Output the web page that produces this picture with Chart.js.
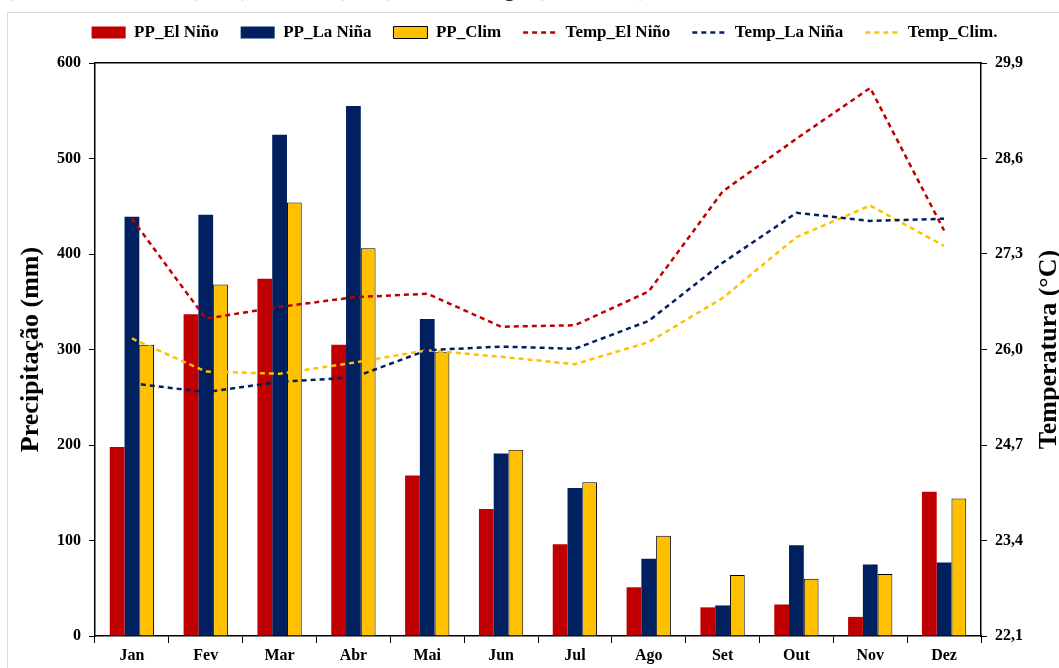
<!DOCTYPE html>
<html>
<head>
<meta charset="utf-8">
<script src="https://cdn.jsdelivr.net/npm/chart.js@4.4.1/dist/chart.umd.min.js"></script>
<style>
  html, body { margin: 0; padding: 0; background: #fff; overflow: hidden; }
  #wrap { position: relative; width: 1059px; height: 668px; overflow: hidden; }
  #caption { position: absolute; left: -2px; top: -24px; font: 22px "Liberation Serif", serif; color: #000; white-space: nowrap; }
  #frame { position: absolute; left: 7px; top: 12px; width: 1100px; height: 700px; border: 1px solid #d9d9d9; }
  #chart { position: absolute; left: 0; top: 0; }
</style>
</head>
<body>
<div id="wrap">
  <div id="caption">S) e Anos de El Niño (2015), La Niña (2016) e Climatologia (1981-2010).</div>
  <div id="frame"></div>
  <canvas id="chart" width="1059" height="668"></canvas>
</div>
<script>
// months and series
const months = ['Jan', 'Fev', 'Mar', 'Abr', 'Mai', 'Jun', 'Jul', 'Ago', 'Set', 'Out', 'Nov', 'Dez'];

const ppElNino = [198, 337, 374, 305, 168, 133, 96, 51, 30, 33, 20, 151];
const ppLaNina = [439, 441, 525, 555, 332, 191, 155, 81, 32, 95, 75, 77];
const ppClim   = [305, 368, 454, 406, 297, 195, 161, 105, 64, 60, 65, 144];

const tempElNino = [27.78, 26.42, 26.58, 26.71, 26.76, 26.31, 26.33, 26.79, 28.15, 28.87, 29.56, 27.62];
const tempLaNina = [25.54, 25.42, 25.56, 25.62, 25.99, 26.04, 26.01, 26.39, 27.18, 27.86, 27.75, 27.78];
const tempClim   = [26.15, 25.70, 25.67, 25.82, 25.99, 25.90, 25.80, 26.10, 26.70, 27.53, 27.96, 27.41];

const precipTicks = [0, 100, 200, 300, 400, 500, 600];
const tempTicks = [22.1, 23.4, 24.7, 26.0, 27.3, 28.6, 29.9];

const precipTitle = 'Precipitação (mm)';
const tempTitle = 'Temperatura (°C)';

const RED = '#C00000', NAVY = '#002060', GOLD = '#FFC000';
const serif = '"Liberation Serif", "Times New Roman", serif';

// right-hand title reads bottom-to-top like the left one
const rightTitle = {
    id: 'rightTitle',
    afterDraw(chart) {
        const { ctx, chartArea } = chart;
        ctx.save();
        ctx.translate(chart.width - 10, (chartArea.top + chartArea.bottom) / 2);
        ctx.rotate(-Math.PI / 2);
        ctx.font = 'bold 26px ' + serif;
        ctx.fillStyle = '#000';
        ctx.textAlign = 'center';
        ctx.textBaseline = 'middle';
        ctx.fillText(tempTitle, 0, 0);
        ctx.restore();
    }
};

// legend: dashed swatches for the temperature lines
function legendLabels(chart) {
    const items = Chart.defaults.plugins.legend.labels.generateLabels(chart);
    return items.map(item => {
        const ds = chart.data.datasets[item.datasetIndex];
        if (ds.type === 'line') {
            item.lineDash = ds.borderDash;
            item.lineWidth = ds.borderWidth;
            item.strokeStyle = ds.borderColor;
        }
        return item;
    });
}

const tickFont = { family: serif, size: 16, weight: 'bold' };

const ctx = document.getElementById('chart').getContext('2d');
const chart = new Chart(ctx, {
    data: {
        labels: months,
        datasets: [
            { type: 'bar', label: 'PP_El Niño', data: ppElNino, backgroundColor: RED, borderWidth: 0, yAxisID: 'y', order: 1, pointStyle: 'rect' },
            { type: 'bar', label: 'PP_La Niña', data: ppLaNina, backgroundColor: NAVY, borderWidth: 0, yAxisID: 'y', order: 1, pointStyle: 'rect' },
            { type: 'bar', label: 'PP_Clim', data: ppClim, backgroundColor: GOLD, borderColor: '#000', borderWidth: 1, yAxisID: 'y', order: 1, pointStyle: 'rect' },
            { type: 'line', label: 'Temp_El Niño', data: tempElNino, borderColor: RED, backgroundColor: RED, borderWidth: 2.5, borderDash: [5, 4], pointRadius: 0, tension: 0, yAxisID: 'y1', order: 0, pointStyle: 'line' },
            { type: 'line', label: 'Temp_La Niña', data: tempLaNina, borderColor: NAVY, backgroundColor: NAVY, borderWidth: 2.5, borderDash: [5, 4], pointRadius: 0, tension: 0, yAxisID: 'y1', order: 0, pointStyle: 'line' },
            { type: 'line', label: 'Temp_Clim.', data: tempClim, borderColor: GOLD, backgroundColor: GOLD, borderWidth: 2.5, borderDash: [5, 4], pointRadius: 0, tension: 0, yAxisID: 'y1', order: 0, pointStyle: 'line' }
        ]
    },
    options: {
        responsive: false,
        animation: false,
        layout: { padding: { top: 2, left: 30, right: 0, bottom: 0 } },
        datasets: {
            bar: { categoryPercentage: 0.6, barPercentage: 1.0 }
        },
        plugins: {
            tooltip: { enabled: false },
            legend: {
                position: 'top',
                labels: {
                    usePointStyle: true,
                    pointStyleWidth: 34,
                    boxHeight: 12,
                    padding: 22,
                    color: '#000',
                    font: { family: serif, size: 17, weight: 'bold' },
                    generateLabels: legendLabels,
                    sort: (a, b) => a.datasetIndex - b.datasetIndex
                }
            }
        },
        scales: {
            x: {
                type: 'category',
                position: 'bottom',
                afterFit: s => { s.height = 32; },
                grid: { display: true, drawOnChartArea: false, color: '#000', tickLength: 7, offset: true },
                border: { color: '#000', width: 1.5 },
                ticks: { color: '#000', font: tickFont, padding: 3 }
            },
            xTop: {
                type: 'category',
                position: 'top',
                afterFit: s => { s.height = 12; },
                grid: { display: false },
                ticks: { display: false },
                border: { display: true, color: '#000', width: 1.5 }
            },
            y: {
                type: 'linear',
                position: 'left',
                min: 0,
                max: 600,
                afterFit: s => { s.width = 65; },
                afterBuildTicks: s => { s.ticks = precipTicks.map(v => ({ value: v })); },
                grid: { display: true, drawOnChartArea: false, color: '#000', tickLength: 6 },
                border: { color: '#000', width: 1.5 },
                ticks: { color: '#000', font: tickFont, padding: 8 },
                title: {
                    display: true,
                    text: precipTitle,
                    color: '#000',
                    font: { family: serif, size: 26, weight: 'bold', lineHeight: 1 },
                    padding: { top: -12, bottom: 0 }
                }
            },
            y1: {
                type: 'linear',
                position: 'right',
                min: 22.1,
                max: 29.9,
                afterFit: s => { s.width = 78; },
                afterBuildTicks: s => { s.ticks = tempTicks.map(v => ({ value: v })); },
                grid: { display: true, drawOnChartArea: false, color: '#000', tickLength: 6 },
                border: { color: '#000', width: 1.5 },
                ticks: {
                    color: '#000',
                    font: tickFont,
                    padding: 8,
                    callback: v => Number(v).toFixed(1).replace('.', ',')
                }
            }
        }
    },
    plugins: [rightTitle]
});
</script>
</body>
</html>
